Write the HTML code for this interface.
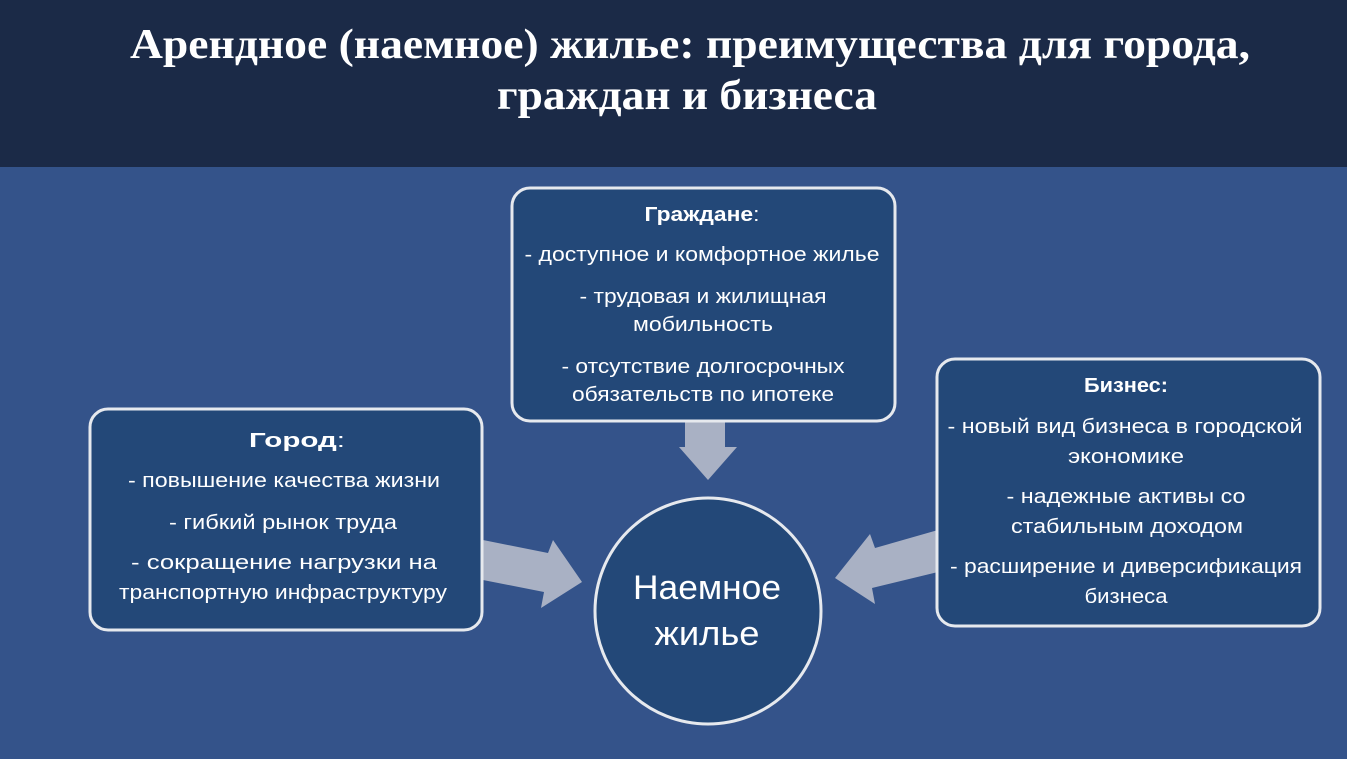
<!DOCTYPE html>
<html><head><meta charset="utf-8">
<style>
html,body{margin:0;padding:0;width:1347px;height:759px;overflow:hidden;background:#34538a;}
</style></head><body>
<svg width="1347" height="759" viewBox="0 0 1347 759" xmlns="http://www.w3.org/2000/svg" font-family="'Liberation Sans', sans-serif">
<rect x="0" y="0" width="1347" height="759" fill="#34538a"/>
<rect x="0" y="0" width="1347" height="167" fill="#1b2a47"/>
<g font-family="'Liberation Serif', serif" font-weight="bold" font-size="42" fill="#fff" text-anchor="middle" dominant-baseline="central" lengthAdjust="spacingAndGlyphs">
<text x="690" y="45" textLength="1120" lengthAdjust="spacingAndGlyphs">Арендное (наемное) жилье: преимущества для города,</text>
<text x="687" y="96" textLength="380" lengthAdjust="spacingAndGlyphs">граждан и бизнеса</text>
</g>
<g fill="#a9b1c4">
<polygon points="685,420 725,420 725,447 737,447 708,480 679,447 685,447"/>
<polygon points="483,540 548,553 553,540 582,582 541,608 544,592 483,580"/>
<polygon points="938,530 875,548 870,534 835,578 875,604 872,588 938,572"/>
</g>
<g fill="#234878" stroke="#e6e9ee" stroke-width="3">
<rect x="90" y="409" width="392" height="221" rx="18"/>
<rect x="512" y="188" width="383" height="233" rx="18"/>
<rect x="937" y="359" width="383" height="267" rx="18"/>
<circle cx="708" cy="611" r="113"/>
</g>
<g fill="#fff" font-size="20" text-anchor="middle" dominant-baseline="central">
<text x="297" y="441" textLength="96" lengthAdjust="spacingAndGlyphs"><tspan font-weight="bold">Город</tspan>:</text>
<text x="284" y="481" textLength="312" lengthAdjust="spacingAndGlyphs">- повышение  качества жизни</text>
<text x="283" y="523" textLength="228" lengthAdjust="spacingAndGlyphs">- гибкий рынок труда</text>
<text x="284" y="563" textLength="306" lengthAdjust="spacingAndGlyphs">- сокращение  нагрузки на</text>
<text x="283" y="593" textLength="328" lengthAdjust="spacingAndGlyphs">транспортную инфраструктуру</text>

<text x="702" y="215" textLength="115" lengthAdjust="spacingAndGlyphs"><tspan font-weight="bold">Граждане</tspan>:</text>
<text x="702" y="255" textLength="355" lengthAdjust="spacingAndGlyphs">- доступное и комфортное жилье</text>
<text x="703" y="297" textLength="247" lengthAdjust="spacingAndGlyphs">- трудовая и жилищная</text>
<text x="703" y="325" textLength="140" lengthAdjust="spacingAndGlyphs">мобильность</text>
<text x="703" y="367" textLength="283" lengthAdjust="spacingAndGlyphs">- отсутствие долгосрочных</text>
<text x="703" y="395" textLength="262" lengthAdjust="spacingAndGlyphs">обязательств по ипотеке</text>

<text x="1126" y="386" font-weight="bold" textLength="84" lengthAdjust="spacingAndGlyphs">Бизнес:</text>
<text x="1125" y="427" textLength="355" lengthAdjust="spacingAndGlyphs">- новый вид бизнеса в городской</text>
<text x="1126" y="457" textLength="116" lengthAdjust="spacingAndGlyphs">экономике</text>
<text x="1126" y="497" textLength="239" lengthAdjust="spacingAndGlyphs">- надежные  активы со</text>
<text x="1127" y="527" textLength="232" lengthAdjust="spacingAndGlyphs">стабильным доходом</text>
<text x="1126" y="567" textLength="352" lengthAdjust="spacingAndGlyphs">- расширение  и диверсификация</text>
<text x="1126" y="597" textLength="83" lengthAdjust="spacingAndGlyphs">бизнеса</text>

<text x="707" y="588" font-size="34" textLength="148" lengthAdjust="spacingAndGlyphs">Наемное</text>
<text x="707" y="634" font-size="34" textLength="105" lengthAdjust="spacingAndGlyphs">жилье</text>
</g>
</svg>
</body></html>
